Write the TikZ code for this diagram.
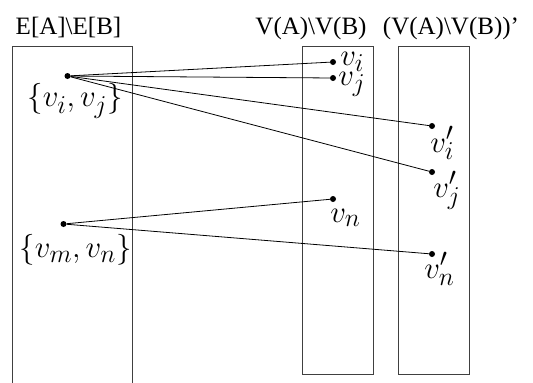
\documentclass[tikz,border=0pt]{standalone}
\usepackage{fontspec}
\setmainfont{Liberation Serif}
\begin{document}
\begin{tikzpicture}[x=1pt,y=-1pt,
  box/.style={draw=black!75,line width=0.9pt},
  dot/.style={circle,fill=black,inner sep=0pt,minimum size=6pt},
  conn/.style={draw=black,line width=0.8pt},
  ttl/.style={font=\fontsize{25}{30}\selectfont,inner sep=0pt,anchor=base},
  lbl/.style={font=\fontsize{24.88}{30}\selectfont,inner sep=0pt,scale=1.24}]
\useasboundingbox (0,0) rectangle (533,383);
% boxes
\draw[box] (12.5,383) -- (12.5,46.5) -- (132,46.5) -- (132,383);
\draw[box] (302,46.5) rectangle (373,374);
\draw[box] (398,46.5) rectangle (469,374);
% titles
\node[ttl] (t1) at (68.5,34) {E[A]\textbackslash E[B]};
\node[ttl] (t2) at (311,34) {V(A)\textbackslash V(B)};
\node[ttl] (t3) at (451,34) {(V(A)\textbackslash V(B))'};
% dots
\node[dot] (e1) at (67.5,76) {};
\node[dot] (e2) at (63.5,224) {};
\node[dot] (vi) at (333,62) {};
\node[dot] (vj) at (333,78) {};
\node[dot] (vn) at (333,199) {};
\node[dot] (vip) at (432,126) {};
\node[dot] (vjp) at (432,172) {};
\node[dot] (vnp) at (432,254) {};
% labels
\node[lbl] (le1) at (75,101) {$\{v_i,v_j\}$};
\node[lbl] (le2) at (75.5,250) {$\{v_m,v_n\}$};
\node[lbl,anchor=base west] (lvi) at (340,65) {$v_i$};
\node[lbl,anchor=base west] (lvj) at (338,85) {$v_j$};
\node[lbl,anchor=base west] (lvn) at (330,222) {$v_n$};
\node[lbl,anchor=base west] (lvip) at (430,152) {$v_i'$};
\node[lbl,anchor=base west] (lvjp) at (433,197) {$v_j'$};
\node[lbl,anchor=base west] (lvnp) at (424,278) {$v_n'$};
% connectors
\draw[conn] (e1) -- (vi);
\draw[conn] (e1) -- (vj);
\draw[conn] (e1) -- (vip);
\draw[conn] (e1) -- (vjp);
\draw[conn] (e2) -- (vn);
\draw[conn] (e2) -- (vnp);
\end{tikzpicture}
\end{document}
